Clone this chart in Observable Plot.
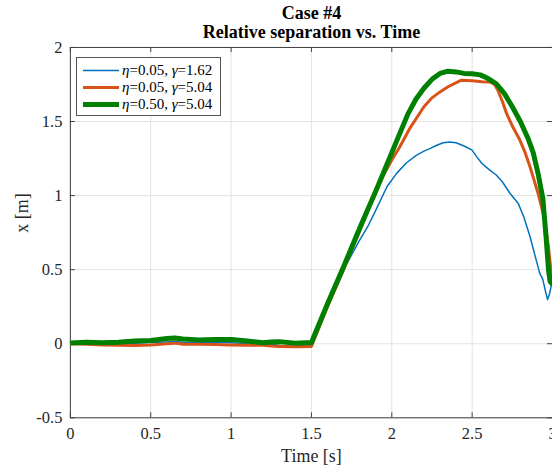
<!DOCTYPE html>
<html>
<head>
<meta charset="utf-8">
<script src="https://cdn.jsdelivr.net/npm/d3@7"></script>
<script src="https://cdn.jsdelivr.net/npm/@observablehq/plot@0.6"></script>
<style>
  html, body { margin: 0; padding: 0; background: #fff; overflow: hidden; }
  #wrap { position: relative; width: 552px; height: 469px; font-family: "Liberation Serif", "Times New Roman", serif; }
  #title { position: absolute; left: 70px; top: 4px; width: 483px; text-align: center; font-weight: bold; font-size: 18px; line-height: 19px; color: #000; }
  #legend { position: absolute; left: 76px; top: 57px; width: 145px; height: 59px; border: 1px solid #555; background: #fff; box-sizing: border-box; font-size: 15px; color: #000; }
  .row { position: absolute; left: 5px; height: 17px; display: flex; align-items: center; white-space: nowrap; }
  .row svg { margin-right: 3px; }
  #chart { padding-top: 30px; }
  svg.plot { overflow: visible; }
</style>
</head>
<body>
<div id="wrap">
  <div id="chart"></div>
  <div id="title"><div>Case #4</div><div>Relative separation vs. Time</div></div>
  <div id="legend"></div>
</div>
<script>
// ---- data ----
const seriesNames = ["η=0.05, γ=1.62", "η=0.05, γ=5.04", "η=0.50, γ=5.04"];
const seriesColors = ["#0072BD", "#D95319", "#008000"];
const seriesWidths = [1.5, 3, 5];

const tBlue = [0, 0.1, 0.2, 0.3, 0.4, 0.5, 0.6, 0.65, 0.7, 0.8, 0.9, 1.0, 1.1, 1.2, 1.25, 1.3, 1.4, 1.5,
  1.6, 1.7, 1.75, 1.8, 1.85, 1.9, 1.97, 2.03, 2.09, 2.15, 2.2, 2.24, 2.28, 2.32, 2.36, 2.4, 2.45, 2.5,
  2.53, 2.56, 2.6, 2.65, 2.69, 2.735, 2.786, 2.82, 2.86, 2.89, 2.92, 2.94, 2.955, 2.969, 2.98, 2.994, 3.0];
const xBlue = [0, 0.002, -0.002, 0.0, 0.004, 0.008, 0.012, 0.015, 0.01, 0.008, 0.01, 0.006, 0.0, -0.006, -0.004, -0.012, -0.014, -0.008,
  0.25, 0.5, 0.6, 0.7, 0.79, 0.9, 1.06, 1.15, 1.22, 1.27, 1.3, 1.319, 1.34, 1.357, 1.362, 1.357, 1.335, 1.307,
  1.26, 1.218, 1.18, 1.139, 1.09, 1.016, 0.949, 0.86, 0.724, 0.6, 0.478, 0.433, 0.36, 0.298, 0.33, 0.4, 0.42];

const tOrange = [0, 0.1, 0.2, 0.3, 0.4, 0.5, 0.6, 0.65, 0.7, 0.8, 0.9, 1.0, 1.1, 1.2, 1.25, 1.3, 1.4, 1.5,
  1.6, 1.7, 1.8, 1.9, 1.95, 2.0, 2.05, 2.11, 2.2, 2.25, 2.3, 2.35, 2.43, 2.5, 2.56, 2.61, 2.64, 2.66,
  2.69, 2.714, 2.75, 2.797, 2.83, 2.86, 2.91, 2.952, 2.975, 2.99, 3.0];
const xOrange = [0, -0.004, -0.008, -0.01, -0.012, -0.008, 0.0, 0.004, -0.004, -0.004, -0.006, -0.008, -0.01, -0.01, -0.016, -0.018, -0.02, -0.018,
  0.25, 0.5, 0.76, 1.03, 1.14, 1.24, 1.33, 1.45, 1.6, 1.66, 1.70, 1.735, 1.778, 1.775, 1.768, 1.767, 1.75, 1.711,
  1.63, 1.555, 1.47, 1.375, 1.29, 1.195, 1.016, 0.836, 0.65, 0.5, 0.45];

const tGreen = [0, 0.1, 0.2, 0.3, 0.4, 0.5, 0.6, 0.65, 0.7, 0.8, 0.9, 1.0, 1.1, 1.2, 1.25, 1.3, 1.4, 1.5,
  1.6, 1.7, 1.8, 1.9, 2.0, 2.05, 2.1, 2.15, 2.2, 2.25, 2.3, 2.35, 2.4, 2.45, 2.5, 2.55, 2.6, 2.65, 2.7, 2.75,
  2.8, 2.85, 2.88, 2.91, 2.94, 2.96, 2.975, 2.985, 3.0];
const xGreen = [0.005, 0.01, 0.006, 0.01, 0.018, 0.022, 0.035, 0.038, 0.032, 0.026, 0.028, 0.028, 0.018, 0.006, 0.012, 0.014, 0.004, 0.008,
  0.27, 0.52, 0.78, 1.03, 1.29, 1.42, 1.55, 1.65, 1.725, 1.785, 1.825, 1.84, 1.835, 1.825, 1.822, 1.815, 1.79, 1.755, 1.69, 1.60,
  1.50, 1.38, 1.29, 1.15, 0.98, 0.72, 0.5, 0.42, 0.4];

const xTicks = [0, 0.5, 1, 1.5, 2, 2.5, 3];
const yTicks = [-0.5, 0, 0.5, 1, 1.5, 2];
// --------------------------------------

const series = [
  {t: tBlue, x: xBlue},
  {t: tOrange, x: xOrange},
  {t: tGreen, x: xGreen}
].map((s, i) => s.t.map((t, j) => ({t, x: s.x[j], name: seriesNames[i]})));

// SVG starts at y = 30 on the page; plot area spans page y 47 .. 418
const W = 553, H = 439, mL = 70, mR = 0, mT = 17, mB = 51;
const plotH = H - mT - mB, plotW = W - mL - mR;
const axisColor = "#404040";

const chart = Plot.plot({
  width: W, height: H,
  marginLeft: mL, marginRight: mR, marginTop: mT, marginBottom: mB,
  style: {fontFamily: "Liberation Serif, Times New Roman, serif", fontSize: "16px", color: "#262626", background: "transparent"},
  x: {domain: [0, 3], ticks: xTicks},
  y: {domain: [-0.5, 2], ticks: yTicks},
  marks: [
    Plot.gridX(xTicks, {stroke: "#e3e3e3", strokeOpacity: 1}),
    Plot.gridY(yTicks, {stroke: "#e3e3e3", strokeOpacity: 1}),
    Plot.frame({stroke: axisColor}),
    // inward ticks
    Plot.gridX(xTicks, {stroke: axisColor, strokeOpacity: 1, insetTop: plotH - 5}),
    Plot.gridX(xTicks, {stroke: axisColor, strokeOpacity: 1, insetBottom: plotH - 5}),
    Plot.gridY(yTicks, {stroke: axisColor, strokeOpacity: 1, insetRight: plotW - 5}),
    Plot.gridY(yTicks, {stroke: axisColor, strokeOpacity: 1, insetLeft: plotW - 5}),
    Plot.axisX(xTicks, {tickSize: 0, tickPadding: 10, tickFormat: d => String(d), label: null, fontSize: 16.5, fill: "#262626"}),
    Plot.axisY(yTicks, {tickSize: 0, tickPadding: 8, tickFormat: d => String(d), label: null, fontSize: 16.5, fill: "#262626"}),
    Plot.text(["Time [s]"], {frameAnchor: "bottom", dy: 39, fontSize: 18, fill: "#262626", lineAnchor: "middle"}),
    Plot.text(["x [m]"], {frameAnchor: "left", dx: -48, rotate: -90, fontSize: 18, fill: "#262626", lineAnchor: "middle"}),
    ...series.map((d, i) => Plot.line(d, {x: "t", y: "x", stroke: seriesColors[i], strokeWidth: seriesWidths[i], strokeLinejoin: "round", strokeLinecap: "butt"}))
  ]
});
document.getElementById("chart").appendChild(chart);

// legend
const legend = document.getElementById("legend");
seriesNames.forEach((name, i) => {
  const row = document.createElement("div");
  row.className = "row";
  row.style.top = (4 + i * 17) + "px";
  const [eta, rest] = name.split(", ");
  const fmt = s => s.replace(/^([ηγ])/, '<i>$1</i>');
  row.innerHTML = `<svg width="37" height="17"><line x1="1" x2="37" y1="8.5" y2="8.5" stroke="${seriesColors[i]}" stroke-width="${seriesWidths[i]}"/></svg><span>${fmt(eta)}, ${fmt(rest)}</span>`;
  legend.appendChild(row);
});
</script>
</body>
</html>
